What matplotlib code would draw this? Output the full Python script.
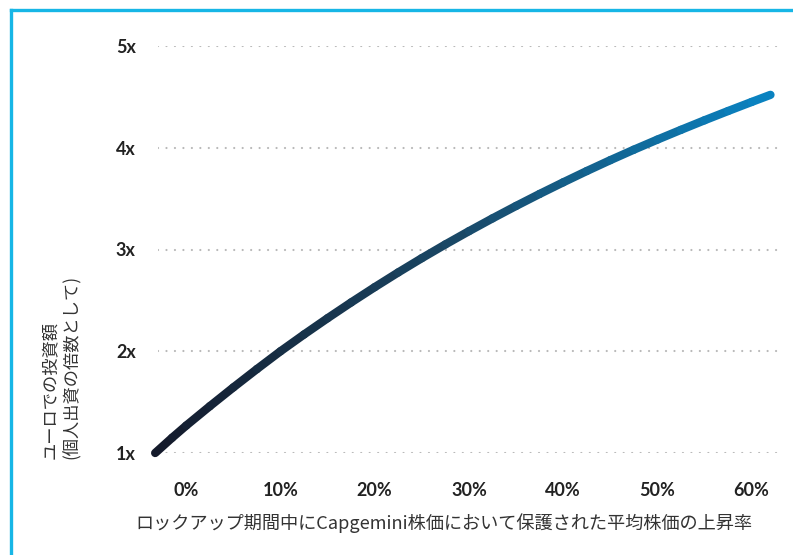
import numpy as np
import matplotlib
matplotlib.use("Agg")
import matplotlib.pyplot as plt
from matplotlib.collections import LineCollection
from matplotlib.colors import LinearSegmentedColormap
from matplotlib.lines import Line2D

plt.rcParams['font.family'] = ['Noto Sans CJK JP', 'DejaVu Sans']

# price rise during lock-up (%) vs. investment multiple in euros
rise_pct = [-3.3, -1.5, 0, 2.5, 5, 7.5, 10, 12.5, 15, 17.5, 20, 22.5, 25, 27.5,
            30, 32.5, 35, 37.5, 40, 42.5, 45, 47.5, 50, 52.5, 55, 57.5, 60, 62]
multiple = [1.00, 1.15, 1.27, 1.46, 1.645, 1.825, 2.00, 2.165, 2.325, 2.48, 2.63,
            2.775, 2.915, 3.05, 3.18, 3.306, 3.428, 3.546, 3.66, 3.771, 3.878,
            3.981, 4.08, 4.176, 4.27, 4.361, 4.45, 4.52]

x_ticks = [0, 10, 20, 30, 40, 50, 60]
x_labels = ["0%", "10%", "20%", "30%", "40%", "50%", "60%"]
y_ticks = [1, 2, 3, 4, 5]
y_labels = ["1x", "2x", "3x", "4x", "5x"]

xlabel = "ロックアップ期間中にCapgemini株価において保護された平均株価の上昇率"
ylabel = "ユーロでの投資額\n(個人出資の倍数として)"

fig = plt.figure(figsize=(7.93, 5.55), dpi=100)
ax = fig.add_axes([158 / 793, 1 - 453 / 555, (778 - 158) / 793, (453 - 46) / 555])

ax.set_xlim(-3.0, 62.8)
ax.set_ylim(1, 5)

# dotted horizontal grid
for yv in y_ticks:
    ax.axhline(yv, color="#b8b8b8", lw=1.6, linestyle=(0, (0.01, 3.8)),
               dash_capstyle="round", zorder=1)

# gradient line, dark navy -> blue
pts = np.column_stack([rise_pct, multiple])
segs = np.stack([pts[:-1], pts[1:]], axis=1)
cmap = LinearSegmentedColormap.from_list("grad", ["#141a2b", "#1a4866", "#0a82c0"])
lc = LineCollection(segs, cmap=cmap, linewidths=6, capstyle="round",
                    joinstyle="round", zorder=3, clip_on=False)
lc.set_array(np.linspace(0, 1, len(segs)))
ax.add_collection(lc)

tick_font = dict(fontfamily="Lato", fontweight="bold", fontsize=13,
                 color="#222222")
ax.set_xticks(x_ticks)
ax.set_xticklabels(x_labels, **tick_font)
ax.set_yticks(y_ticks)
ax.set_yticklabels(y_labels, **tick_font)
ax.tick_params(axis="x", length=0, pad=21)
ax.tick_params(axis="y", length=0, pad=16)
for s in ax.spines.values():
    s.set_visible(False)

fig.text(444 / 793, 1 - 523 / 555, xlabel, ha="center", va="center",
         fontsize=13.1, color="#333333")
fig.text(61 / 793, 1 - 459 / 555, ylabel, ha="center", va="bottom",
         rotation=90, multialignment="left", fontsize=12.4, color="#333333",
         linespacing=1.2)

# cyan frame on top and left
fig.add_artist(Line2D([10.5 / 793, 1], [1 - 9.5 / 555, 1 - 9.5 / 555],
                      color="#17b6e6", lw=2.4, transform=fig.transFigure))
fig.add_artist(Line2D([10.5 / 793, 10.5 / 793], [0, 1 - 9.5 / 555],
                      color="#17b6e6", lw=2.4, transform=fig.transFigure))

fig.savefig("out.png", dpi=100)
